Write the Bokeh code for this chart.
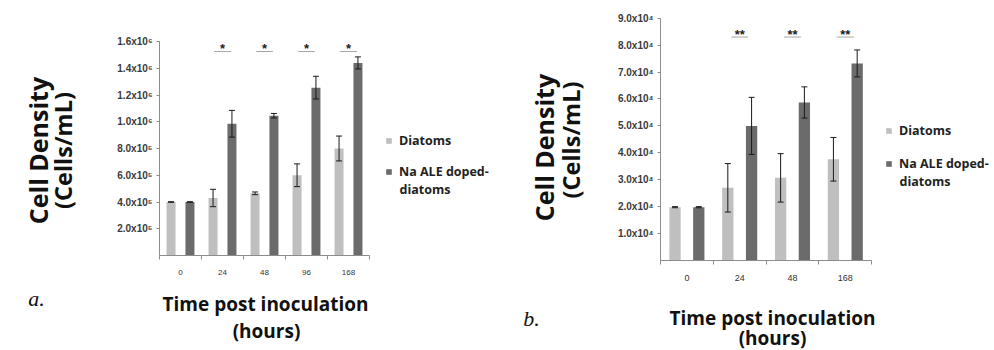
import numpy as np
from bokeh.plotting import figure
from bokeh.models import (ColumnDataSource, FixedTicker, Whisker, TeeHead, Label,
                          Legend, LegendItem, Range1d)
from bokeh.layouts import row
from bokeh.embed import file_html
from bokeh.resources import INLINE
from bokeh.core.properties import value

# ---------------- data: panel a ----------------
cats_a = ["0", "24", "48", "96", "168"]
diatoms_a = [4.0e5, 4.3e5, 4.65e5, 6.0e5, 8.0e5]
diatoms_err_a = [0.02e5, 0.65e5, 0.1e5, 0.85e5, 0.93e5]
doped_a = [4.0e5, 9.85e5, 10.45e5, 12.55e5, 14.4e5]
doped_err_a = [0.02e5, 1.0e5, 0.17e5, 0.85e5, 0.45e5]
sig_cats_a = ["24", "48", "96", "168"]
sig_mark_a = "*"
sig_level_a = 1.525e6
yticks_a = [200000, 400000, 600000, 800000, 1000000, 1200000, 1400000, 1600000]
ylabels_a = ["2.0x10⁵", "4.0x10⁵", "6.0x10⁵", "8.0x10⁵",
             "1.0x10⁶", "1.2x10⁶", "1.4x10⁶", "1.6x10⁶"]
ymax_a = 1.6e6

# ---------------- data: panel b ----------------
cats_b = ["0", "24", "48", "168"]
diatoms_b = [1.98e4, 2.70e4, 3.07e4, 3.76e4]
diatoms_err_b = [0.02e4, 0.90e4, 0.90e4, 0.81e4]
doped_b = [1.98e4, 5.0e4, 5.87e4, 7.32e4]
doped_err_b = [0.02e4, 1.06e4, 0.58e4, 0.50e4]
sig_cats_b = ["24", "48", "168"]
sig_mark_b = "**"
sig_level_b = 8.3e4
yticks_b = [10000, 20000, 30000, 40000, 50000, 60000, 70000, 80000, 90000]
ylabels_b = ["1.0x10⁴", "2.0x10⁴", "3.0x10⁴", "4.0x10⁴", "5.0x10⁴",
             "6.0x10⁴", "7.0x10⁴", "8.0x10⁴", "9.0x10⁴"]
ymax_b = 9.0e4

series_names = ["Diatoms", "Na ALE doped-", "diatoms"]
x_title = "Time post inoculation"
x_title2 = "(hours)"
y_title = "Cell Density"
y_title2 = "(Cells/mL)"

LIGHT = "#bfbfbf"
DARK = "#6b6b6b"
AXIS = "#8c8c8c"
TITLE_FONT = "Open Sans"
FIG_H = 350


def panel(cats, d1, e1, d2, e2, sig_cats, mark, sig_level, yticks, ylabels, ymax,
          fig_w, geom, xtick_size, half, legend_cfg, texts):
    # geom: axis x offset in figure px, category width px, zero line px, top tick px
    ax_x, cat_w, zero_y, top_y = geom
    n = len(cats)
    ppu = (zero_y - top_y) / ymax
    x_range = Range1d(-ax_x / cat_w - 0.5, (fig_w - ax_x) / cat_w - 0.5)
    y_range = Range1d(-(FIG_H - zero_y) / ppu, zero_y / ppu)
    p = figure(width=fig_w, height=FIG_H, output_backend="svg", toolbar_location=None,
               x_range=x_range, y_range=y_range,
               min_border=0, min_border_left=0, min_border_right=0,
               min_border_top=0, min_border_bottom=0)
    p.outline_line_color = None
    p.xgrid.grid_line_color = None
    p.ygrid.grid_line_color = None

    idx = np.arange(n)
    off, bw = 0.225, 0.214
    s1 = ColumnDataSource(dict(x=idx - off, top=d1, upper=np.array(d1) + np.array(e1),
                               lower=np.array(d1) - np.array(e1)))
    s2 = ColumnDataSource(dict(x=idx + off, top=d2, upper=np.array(d2) + np.array(e2),
                               lower=np.array(d2) - np.array(e2)))
    r1 = p.vbar(x="x", top="top", bottom=0, width=bw, source=s1,
                fill_color=LIGHT, line_color=None)
    r2 = p.vbar(x="x", top="top", bottom=0, width=bw, source=s2,
                fill_color=DARK, line_color=None)
    for s in (s1, s2):
        w = Whisker(base="x", upper="upper", lower="lower", source=s,
                    line_color="#1a1a1a", line_width=1,
                    upper_head=TeeHead(size=6, line_color="#1a1a1a", line_width=1),
                    lower_head=TeeHead(size=6, line_color="#1a1a1a", line_width=1))
        w.level = "overlay"
        p.add_layout(w)

    # significance marks
    sidx = np.array([cats.index(c) for c in sig_cats], dtype=float)
    p.segment(x0=sidx - half, x1=sidx + half, y0=[sig_level] * len(sidx),
              y1=[sig_level] * len(sidx), line_color="#a6a6a6", line_width=1)
    p.text(x=sidx, y=[sig_level] * len(sidx), text=[mark] * len(sidx),
           text_align="center", text_baseline="alphabetic", y_offset=-3,
           text_font=value("Liberation Sans"), text_font_style="bold",
           text_font_size="13px", text_color="#222222")

    # axes
    xa = p.xaxis[0]
    xa.fixed_location = 0
    xa.bounds = (-0.5, n - 0.5)
    xa.ticker = FixedTicker(ticks=list(range(n)),
                            minor_ticks=[i - 0.5 for i in range(n + 1)])
    xa.major_label_overrides = {i: c for i, c in enumerate(cats)}
    xa.major_tick_line_color = None
    xa.minor_tick_line_color = AXIS
    xa.minor_tick_out = 4
    xa.minor_tick_in = 0
    xa.axis_line_color = AXIS
    xa.major_label_standoff = 8
    xa.major_label_text_font = "Liberation Sans"
    xa.major_label_text_font_size = xtick_size
    xa.major_label_text_color = "#333333"

    ya = p.yaxis[0]
    ya.fixed_location = -0.5
    ya.bounds = (0, ymax)
    ya.ticker = FixedTicker(ticks=yticks)
    ya.major_label_overrides = dict(zip(yticks, ylabels))
    ya.axis_line_color = AXIS
    ya.major_tick_line_color = AXIS
    ya.major_tick_out = 3
    ya.major_tick_in = 0
    ya.minor_tick_line_color = None
    ya.major_label_standoff = 4
    ya.major_label_text_font = "Liberation Sans"
    ya.major_label_text_font_style = "bold"
    ya.major_label_text_font_size = "10px"
    ya.major_label_text_color = "#3a3a3a"

    lx, ly, lsp, cont = legend_cfg
    legend = Legend(items=[LegendItem(label=series_names[0], renderers=[r1]),
                           LegendItem(label=series_names[1], renderers=[r2])],
                    location=(lx, ly), orientation="vertical",
                    border_line_color=None, background_fill_alpha=0,
                    padding=0, margin=0, spacing=lsp,
                    glyph_width=7, glyph_height=7, label_standoff=7,
                    label_text_font=TITLE_FONT, label_text_font_style="bold",
                    label_text_font_size="12.5px", label_text_color="#222222")
    p.add_layout(legend)
    # continuation line of the second legend label
    p.add_layout(Label(x=cont[0], y=FIG_H - cont[1], x_units="screen", y_units="screen",
                       text=series_names[2], text_align="left", text_baseline="middle",
                       text_font=TITLE_FONT, text_font_style="bold",
                       text_font_size="12.5px", text_color="#222222"))

    for (txt, x, y, ang, size, font, style, base) in texts:
        p.add_layout(Label(x=x, y=FIG_H - y, x_units="screen", y_units="screen", text=txt,
                           angle=ang, text_align="center", text_baseline=base,
                           text_font=font, text_font_style=style,
                           text_font_size=size, text_color="#111111"))
    return p


HALF_PI = np.pi / 2
# positions (x from panel's left edge, y from top) of the panel texts
texts_a = [
    (y_title, 37.5, 150, HALF_PI, "25px", TITLE_FONT, "bold", "alphabetic"),
    (y_title2, 62, 150, HALF_PI, "23.5px", TITLE_FONT, "bold", "alphabetic"),
    (x_title, 265, 303, 0, "19px", TITLE_FONT, "bold", "middle"),
    (x_title2, 266, 330, 0, "19px", TITLE_FONT, "bold", "middle"),
    ("a.", 36, 298, 0, "22px", "Liberation Serif", "italic", "middle"),
]
texts_b = [
    (y_title, 43, 147, HALF_PI, "25px", TITLE_FONT, "bold", "alphabetic"),
    (y_title2, 70, 139.5, HALF_PI, "23.5px", TITLE_FONT, "bold", "alphabetic"),
    (x_title, 272, 317, 0, "19px", TITLE_FONT, "bold", "middle"),
    (x_title2, 272, 337, 0, "19px", TITLE_FONT, "bold", "middle"),
    ("b.", 31, 318, 0, "22px", "Liberation Serif", "italic", "middle"),
]

pa = panel(cats_a, diatoms_a, diatoms_err_a, doped_a, doped_err_a, sig_cats_a, sig_mark_a,
           sig_level_a, yticks_a, ylabels_a, ymax_a, 500, (159, 42, 255, 41),
           "8px", 0.2, (385, FIG_H - 180, 14, (399, 189)), texts_a)
pb = panel(cats_b, diatoms_b, diatoms_err_b, doped_b, doped_err_b, sig_cats_b, sig_mark_b,
           sig_level_b, yticks_b, ylabels_b, ymax_b, 494, (160, 52.8, 260, 17.7),
           "9px", 0.16, (385, FIG_H - 172, 16, (399, 181)), texts_b)

layout = row(pa, pb)
open("out.html", "w").write(file_html(layout, INLINE))
